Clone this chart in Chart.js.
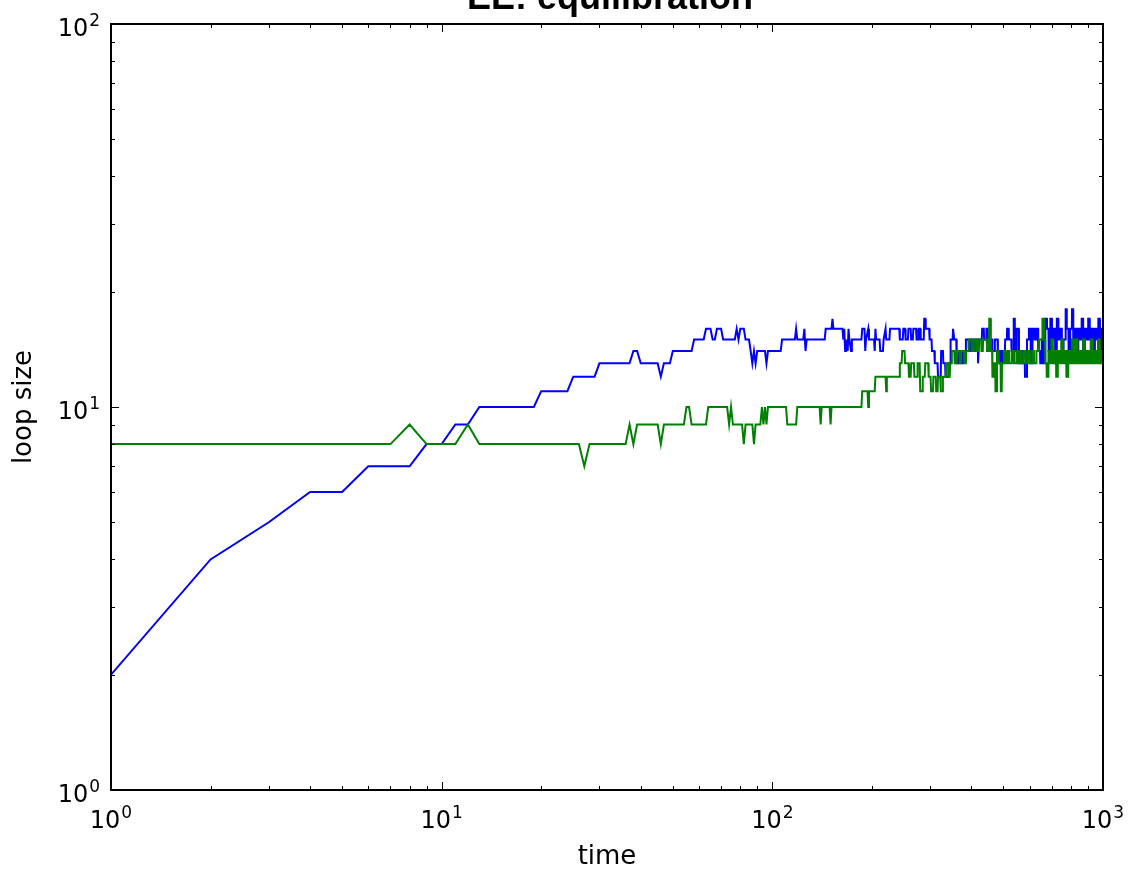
<!DOCTYPE html>
<html>
<head>
<meta charset="utf-8">
<script src="https://cdn.jsdelivr.net/npm/chart.js@4/dist/chart.umd.min.js"></script>
<style>
html,body{margin:0;padding:0;background:#fff;}
#caixa{width:1129px;height:870px;}
</style>
</head>
<body>
<div id="caixa"><canvas id="grafico" width="1129" height="870"></canvas></div>
<script>
// ----------------------- DADOS -----------------------

const titulo = 'EE: equilibration'

// [time, loop size] - blue run
const bluePts = [
  [1,2],[2,4],[3,5],[4,6],[5,6],[6,7],[8,7],[9,8],[10,8],[11,9],[12,9],[13,10],[19,10],[20,11],[24,11],[25,12],[29,12],[30,13],
  [37,13],[38,14],[39,14],[40,13],[45,13],[46,12],[47,13],[49,13],[50,14],[57,14],[58,15],[62,15],[63,16],[65,16],[66,15],[67,15],
  [68,16],[70,16],[71,15],[77,15],[78,16],[79,15],[80,16],[82,16],[83,15],[85,15],[86,14],[87,13],[88,14],[89,13],[90,14],[95,14],
  [96,13],[97,14],[106,14],[107,15],[117,15],[118,16],[119,15],[124,15],[125,16],[126,14],[127,15],[144,15],[145,16],[151,16],
  [152,17],[153,16],[163,16],[164,15],[165,16],[166,14],[167,15],[169,14],[170,16],[171,15],[173,14],[174,15],[186,15],[187,16],
  [190,16],[191,14],[192,15],[195,16],[196,15],[203,15],[204,14],[205,16],[206,15],[211,15],[212,14],[216,14],[217,15],[220,16],
  [221,15],[226,15],[227,16],[242,16],
  [243,15],[248,15],[249,16],[252,16],[253,15],[257,15],[258,16],[262,16],[263,15],[266,15],[267,16],[272,16],[273,15],[276,15],
  [277,16],[280,16],[281,15],[287,15],[288,17],[290,17],[291,16],[298,16],[299,15],[303,15],[304,14],[309,14],[310,13],[316,13],
  [317,12],[323,12],[324,14],[328,14],[329,13],[333,13],[334,12],[340,12],[341,13],[345,13],[346,15],[351,15],[352,16],[354,16],
  [355,15],[360,15],[361,13],[366,13],[367,14],[372,14],[373,13],[376,13],[377,14],[384,14],[385,15],[392,15],[393,14],[396,14],
  [397,15],[404,15],[405,14],[409,14],[410,15],[418,15],[419,13],[421,13],[422,15],[430,15],[431,16],[436,16],[437,15],[443,15],
  [444,16],[448,16],[449,15],[452,15],[453,14],[458,14],[459,15],[462,15],[463,14],[470,14],[471,15],[480,15],[481,13],[487,13],
  [488,14],[493,14],[494,13],[497,13],[498,14],[505,14],[506,15],[512,15],[513,16],[518,16],[519,15],[528,15],[529,14],[536,14],
  [537,17],[541,17],[542,14],[547,14],[548,16],[556,16],[557,13],[563,13],[564,14],[571,14],[572,13],[580,13],[581,12],[588,12],
  [589,15],[596,15],[597,16],[604,16],[605,13],[611,13],[612,16],[620,16],[621,15],[628,15],[629,16],[636,16],[637,14],[645,14],
  [646,13],[652,13],[653,15],[660,15],[661,13],[668,13],[669,17],[676,17],[677,16],[684,16],[685,14],[692,14],[693,17],[700,17],
  [701,15],[708,15],[709,16],[716,16],[717,13],[724,13],[725,17],[732,17],[733,15],[741,15],[742,16],[750,16],[751,14],[759,14],
  [760,15],[770,15],[771,18],[776,18],[777,16],[786,16],[787,14],[795,14],[796,16],[805,16],[806,18],[812,18],[813,15],[822,15],
  [823,16],[831,16],[832,14],[841,14],[842,16],[851,16],[852,15],[861,15],[862,17],[870,17],[871,14],[880,14],[881,16],[891,16],
  [892,15],[901,15],[902,17],[911,17],[912,15],[922,15],[923,16],[933,16],[934,14],[944,14],[945,16],[955,16],[956,15],[967,15],
  [968,17],[978,17],[979,14],[989,14],[990,16],[1000,16]
]

// [time, loop size] - green run
const greenPts = [
  [1,8],[7,8],[8,9],[9,8],[11,8],[12,9],[13,8],[26,8],[27,7],[28,8],[36,8],[37,9],[38,8],[39,9],[45,9],[46,8],[47,9],[54,9],
  [55,10],[56,10],[57,9],[63,9],[64,10],[73,10],[74,9],[75,10],[76,9],[81,9],[82,8],[83,9],[87,9],[88,8],[89,9],[92,9],[93,10],
  [94,9],[95,10],[96,9],[97,10],[110,10],[111,9],[118,9],[119,10],[139,10],[140,9],[141,10],[149,10],[150,9],[151,10],[186,10],
  [187,11],[194,11],[195,10],[196,11],[204,11],[205,12],[220,12],[221,11],[222,12],[242,12],
  [243,13],[246,13],[247,14],[251,14],[252,13],[258,13],[259,12],[262,12],[263,13],[268,13],[269,12],[274,12],[275,13],[279,13],
  [280,11],[284,11],[285,12],[289,12],[290,13],[296,13],[297,12],[301,12],[302,11],[306,11],[307,12],[312,12],[313,11],[316,11],
  [317,12],[322,12],[323,11],[327,11],[328,12],[334,12],[335,13],[340,13],[341,12],[344,12],[345,13],[348,13],[349,14],[355,14],
  [356,13],[360,13],[361,14],[368,14],[369,13],[372,13],[373,14],[380,14],[381,13],[385,13],[386,14],[392,14],[393,15],[400,15],
  [401,14],[406,14],[407,15],[413,15],[414,14],[419,14],[420,15],[428,15],[429,14],[433,14],[434,15],[445,15],[446,14],[452,14],
  [453,17],[457,17],[458,14],[462,14],[463,12],[467,12],[468,13],[472,13],[473,11],[477,11],[478,14],[483,14],[484,13],[490,13],
  [491,11],[494,11],[495,13],[500,13],[501,14],[507,14],[508,13],[514,13],[515,14],[520,14],[521,13],[530,13],[531,14],[537,14],
  [538,13],[546,13],[547,14],[552,14],[553,13],[560,13],[561,14],[567,14],[568,13],[576,13],[577,14],[584,14],[585,13],[592,13],
  [593,14],[600,14],[601,13],[610,13],[611,14],[618,14],[619,13],[628,13],[629,14],[640,14],[641,15],[655,15],[656,17],[662,17],
  [663,15],[668,15],[669,13],[675,13],[676,12],[683,12],[684,14],[690,14],[691,13],[697,13],[698,15],[705,15],[706,13],[713,13],
  [714,14],[721,14],[722,12],[729,12],[730,14],[738,14],[739,13],[747,13],[748,15],[756,15],[757,13],[765,13],[766,14],[774,14],
  [775,12],[784,12],[785,14],[794,14],[795,13],[805,13],[806,15],[815,15],[816,13],[826,13],[827,15],[837,15],[838,13],[848,13],
  [849,14],[859,14],[860,13],[870,13],[871,15],[881,15],[882,13],[893,13],[894,14],[905,14],[906,13],[917,13],[918,15],[929,15],
  [930,13],[941,13],[942,14],[953,14],[954,13],[965,13],[966,15],[977,15],[978,13],[989,13],[990,14],[1000,14]
]

const xTickVals = [1, 10, 100, 1000]
const xTickExp = ['0', '1', '2', '3']
const yTickVals = [1, 10, 100]
const yTickExp = ['0', '1', '2']

// ----------------------- PLUGIN (moldura, ticks para dentro, rótulos 10^n) -----------------------

function minorVals(lo, hi){
  const out = []
  for (let d = lo; d < hi; d *= 10) {
    for (let m = 1; m < 10; m++) out.push(m * d)
  }
  out.push(hi)
  return out
}

// desenha "10" + expoente menor
function potencia(ctx, exp, x, yb, yExp, alinh){
  ctx.font = '24px "DejaVu Sans"'
  const wb = ctx.measureText('10').width
  ctx.font = '17px "DejaVu Sans"'
  const we = ctx.measureText(exp).width
  const total = wb + 1 + we
  const x0 = alinh === 'center' ? x - total / 2 : x - total
  ctx.textAlign = 'left'
  ctx.textBaseline = 'alphabetic'
  ctx.font = '24px "DejaVu Sans"'
  ctx.fillText('10', x0, yb)
  ctx.font = '17px "DejaVu Sans"'
  ctx.fillText(exp, x0 + wb + 1, yExp)
}

const moldura = {
  id: 'moldura',
  afterDatasetsDraw(chart){
    const ctx = chart.ctx
    const a = chart.chartArea
    const sx = chart.scales.x, sy = chart.scales.y
    ctx.save()
    ctx.strokeStyle = '#000'
    ctx.lineWidth = 1
    ctx.beginPath()
    minorVals(1, 1000).forEach(v => {
      const px = Math.round(sx.getPixelForValue(v)) + 0.5
      const len = xTickVals.includes(v) ? 8 : 4
      ctx.moveTo(px, a.bottom); ctx.lineTo(px, a.bottom - len)
      ctx.moveTo(px, a.top); ctx.lineTo(px, a.top + len)
    })
    minorVals(1, 100).forEach(v => {
      const py = Math.round(sy.getPixelForValue(v)) + 0.5
      const len = yTickVals.includes(v) ? 8 : 4
      ctx.moveTo(a.left, py); ctx.lineTo(a.left + len, py)
      ctx.moveTo(a.right, py); ctx.lineTo(a.right - len, py)
    })
    ctx.stroke()
    ctx.lineWidth = 2
    ctx.strokeRect(a.left, a.top, a.right - a.left, a.bottom - a.top)

    // rótulos dos eixos
    ctx.fillStyle = '#000'
    xTickVals.forEach((v, i) => {
      const px = sx.getPixelForValue(v)
      potencia(ctx, xTickExp[i], px, a.bottom + 38, a.bottom + 28, 'center')
    })
    yTickVals.forEach((v, i) => {
      const py = sy.getPixelForValue(v)
      potencia(ctx, yTickExp[i], 100, py + 12, py + 2, 'right')
    })
    ctx.restore()
  },
  afterDraw(chart){
    const ctx = chart.ctx
    ctx.save()
    ctx.fillStyle = '#000'
    ctx.font = 'bold 36px "Liberation Sans"'
    ctx.textAlign = 'center'
    ctx.textBaseline = 'alphabetic'
    ctx.fillText(titulo, 610, 9)
    ctx.restore()
  }
}

// ----------------------- GRÁFICO -----------------------

const fonteTitulo = { family: 'DejaVu Sans', size: 26, lineHeight: 1 }

new Chart(document.getElementById('grafico'), {
  type: 'line',
  data: {
    datasets: [
      {
        data: bluePts.map(p => ({ x: p[0], y: p[1] })),
        borderColor: '#0000ff',
        borderWidth: 2,
        pointRadius: 0,
        tension: 0,
        order: 2
      },
      {
        data: greenPts.map(p => ({ x: p[0], y: p[1] })),
        borderColor: '#008000',
        borderWidth: 2,
        pointRadius: 0,
        tension: 0,
        order: 1
      }
    ]
  },
  options: {
    responsive: false,
    animation: false,
    layout: { padding: { top: 24, right: 26, left: 0, bottom: 0 } },
    plugins: { legend: { display: false }, tooltip: { enabled: false } },
    scales: {
      x: {
        type: 'logarithmic',
        min: 1, max: 1000,
        grid: { display: false },
        border: { display: false },
        afterFit: s => { s.height = 80 },
        ticks: { display: false },
        title: { display: true, text: 'time', color: '#000', font: fonteTitulo, padding: { top: 0, bottom: 0 } }
      },
      y: {
        type: 'logarithmic',
        min: 1, max: 100,
        grid: { display: false },
        border: { display: false },
        afterFit: s => { s.width = 111 },
        ticks: { display: false },
        title: { display: true, text: 'loop size', color: '#000', font: fonteTitulo, padding: { top: 11, bottom: 0 } }
      }
    }
  },
  plugins: [moldura]
})
</script>
</body>
</html>
